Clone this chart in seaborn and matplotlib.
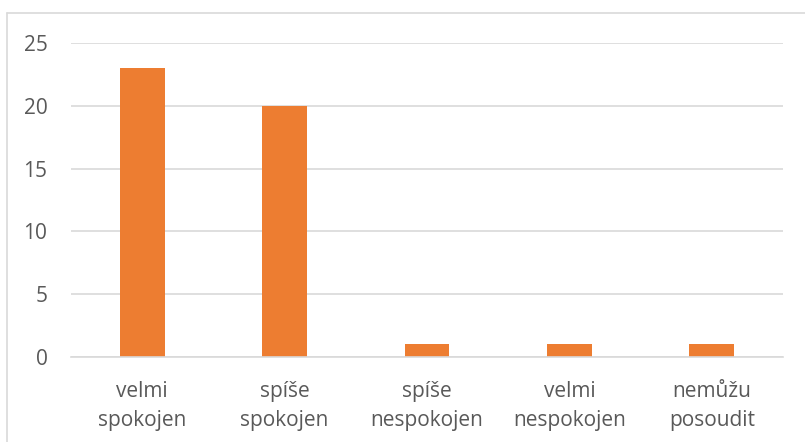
import matplotlib
matplotlib.use("Agg")
import matplotlib.pyplot as plt
from matplotlib.lines import Line2D
import seaborn as sns
import pandas as pd

# Data
categories = ["velmi\nspokojen", "spíše\nspokojen", "spíše\nnespokojen",
              "velmi\nnespokojen", "nemůžu\nposoudit"]
counts = [23, 20, 1, 1, 1]
y_ticks = [0, 5, 10, 15, 20, 25]

df = pd.DataFrame({"kategorie": categories, "pocet": counts})

sns.set_style("white")
plt.rcParams['font.family'] = ['Open Sans', 'DejaVu Sans']

W, H = 805, 442
fig = plt.figure(figsize=(W / 100, H / 100), dpi=100)
ax = fig.add_axes([71 / W, 1 - 357 / H, (783 - 71) / W, (357 - 43) / H])

sns.barplot(data=df, x="kategorie", y="pocet", color="#ED7D31",
            saturation=1, width=0.316, linewidth=0, ax=ax)

ax.set_ylim(0, 25)
ax.set_yticks(y_ticks)
ax.set_xlim(-0.5, len(categories) - 0.5)
ax.yaxis.grid(True, color="#D9D9D9", linewidth=1.2)
ax.set_axisbelow(True)
for side in ["top", "right", "left"]:
    ax.spines[side].set_visible(False)
ax.spines["bottom"].set_color("#D9D9D9")
ax.spines["bottom"].set_linewidth(1.2)
ax.set_xlabel("")
ax.set_ylabel("")
ax.tick_params(axis="both", length=0, labelsize=15, labelcolor="#595959")
ax.tick_params(axis="y", pad=17)
ax.tick_params(axis="x", pad=17)
for lbl in ax.get_xticklabels():
    lbl.set_linespacing(1.55)

# chart frame (only top and left are visible in the crop)
fig.add_artist(Line2D([7 / W, 7 / W], [0, 1 - 13 / H], transform=fig.transFigure,
                      color="#D9D9D9", linewidth=1.2))
fig.add_artist(Line2D([7 / W, 1], [1 - 13 / H, 1 - 13 / H], transform=fig.transFigure,
                      color="#D9D9D9", linewidth=1.2))

fig.savefig("out.png", dpi=100)
